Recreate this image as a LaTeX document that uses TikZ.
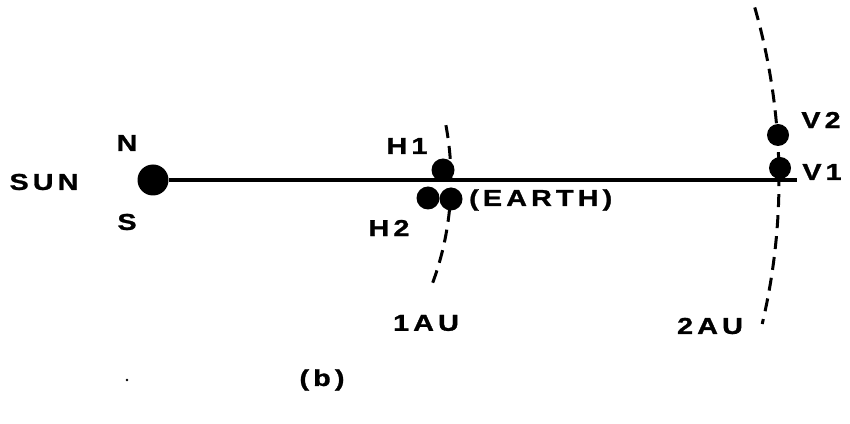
\documentclass[tikz,border=0pt]{standalone}
\usepackage{fontspec}
\setmainfont{Liberation Sans}[FakeStretch=1.25,LetterSpace=18,BoldFeatures={FakeBold=1.2}]
\begin{document}
\begin{tikzpicture}[x=1pt,y=1pt,
  lbl/.style={inner sep=0pt,font=\bfseries\fontsize{23}{23}\selectfont},
  body/.style={circle,fill=black,inner sep=0pt,minimum size=#1},
  orbit/.style={line width=3pt,dash pattern=on 13pt off 8pt},
  axis/.style={line width=3.4pt}]
\useasboundingbox (0,0) rectangle (850,423);
\node[body=31pt] (sun) at (153,243) {};
\coordinate (lineend) at (797,243);
\draw[axis] (sun.east) -- (lineend);
\node[lbl] (sunl) at (44,241) {SUN};
\node[lbl] (nl) at (127,280) {N};
\node[lbl] (sl) at (127,201) {S};
% orbits
\draw[orbit] (sun.center) ++(10.6:298) arc[start angle=10.6,end angle=-20.4,radius=298];
\draw[orbit] (sun.center) ++(16.0:626) arc[start angle=16.0,end angle=-13.3,radius=626];
% bodies
\node[body=23pt] (h1) at (443,253) {};
\node[body=23pt] (h2) at (428,225) {};
\node[body=23pt] (earth) at (451,224) {};
\node[body=22pt] (v2) at (778,288) {};
\node[body=22pt] (v1) at (780,255) {};
\node[lbl] (h1l) at (407,277) {H1};
\node[lbl] (h2l) at (389,195) {H2};
\node[lbl,anchor=west] (earthl) at (469,223) {(EARTH)};
\node[lbl] (v2l) at (821,303) {V2};
\node[lbl] (v1l) at (822,251) {V1};
\node[lbl] (au1) at (426,100) {1AU};
\node[lbl] (au2) at (710,97) {2AU};
\node[lbl] (b) at (322,43) {(b)};
\fill (127,43) circle (1.3pt);
\end{tikzpicture}
\end{document}
